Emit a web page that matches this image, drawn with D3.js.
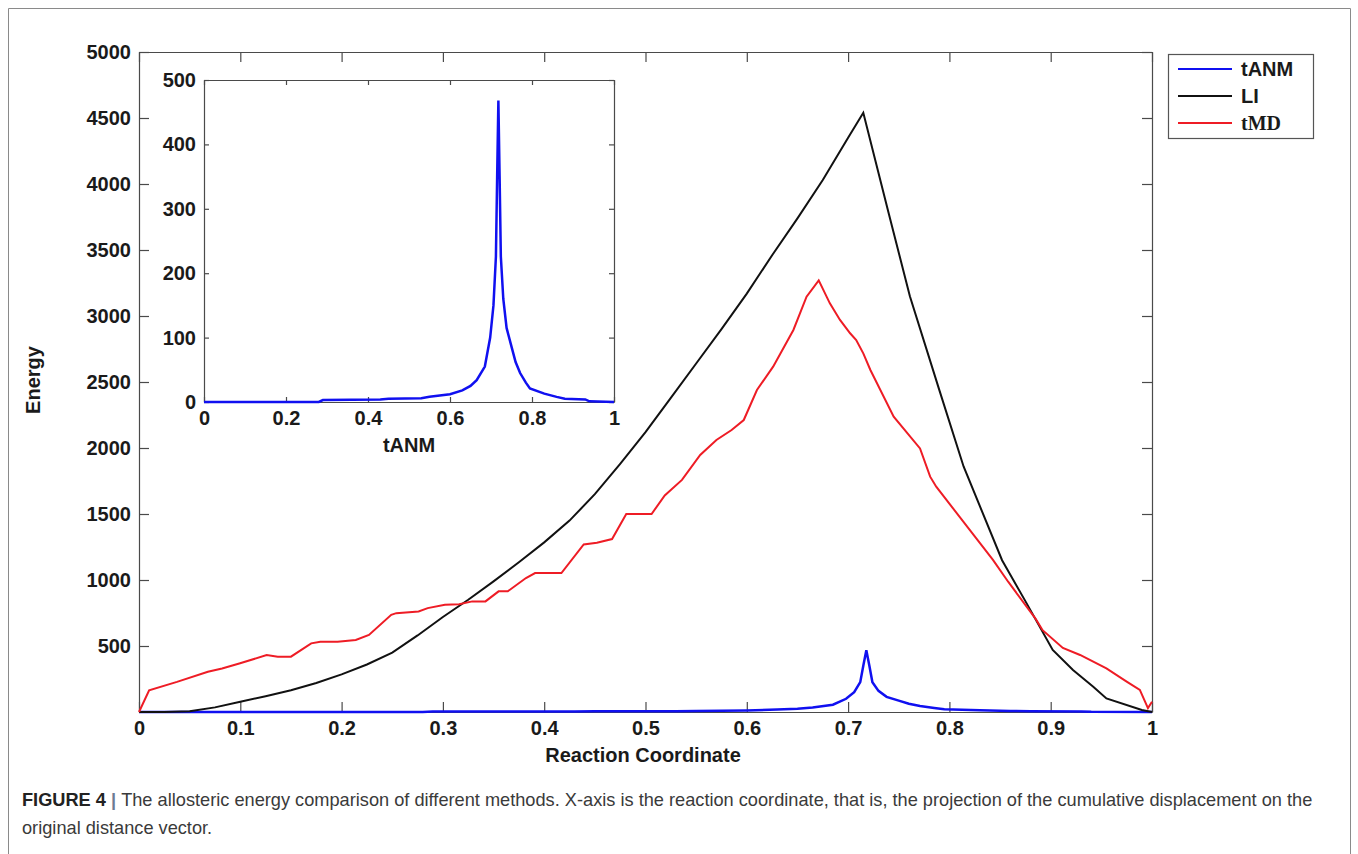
<!DOCTYPE html>
<html>
<head>
<meta charset="utf-8">
<script src="https://cdn.jsdelivr.net/npm/d3@7/dist/d3.min.js"></script>
<style>
  body { margin: 0; background: #fff; }
  svg { display: block; }
  .axis text { font-family: "Liberation Sans", Arial, Helvetica, sans-serif; font-size: 20px; font-weight: bold; fill: #1a1a1a; }
  .axis path, .axis line { stroke: #4a4a4a; stroke-width: 1.2; }
</style>
</head>
<body>
<div id="chart"></div>
<script>
// ---- data ----
// tick labels
var xTicksMain = [0, 0.1, 0.2, 0.3, 0.4, 0.5, 0.6, 0.7, 0.8, 0.9, 1];
var yTicksMain = [500, 1000, 1500, 2000, 2500, 3000, 3500, 4000, 4500, 5000];
var xTicksInset = [0, 0.2, 0.4, 0.6, 0.8, 1];
var yTicksInset = [0, 100, 200, 300, 400, 500];

// legend names
var seriesNames = ["tANM", "LI", "tMD"];

// LI (black)
var liX = [0, 0.025, 0.05, 0.075, 0.1, 0.125, 0.15, 0.175, 0.2, 0.225, 0.25, 0.275, 0.3, 0.325, 0.35, 0.375, 0.4, 0.425, 0.45, 0.475, 0.5, 0.525, 0.55, 0.575, 0.6, 0.625, 0.65, 0.675, 0.7, 0.715, 0.74, 0.761, 0.79, 0.814, 0.852, 0.875, 0.902, 0.922, 0.942, 0.955, 0.99, 1];
var liY = [0, 0, 5, 35, 78, 120, 165, 220, 285, 360, 450, 580, 720, 850, 990, 1135, 1285, 1450, 1650, 1880, 2120, 2380, 2640, 2900, 3170, 3460, 3740, 4030, 4350, 4540, 3780, 3150, 2440, 1860, 1150, 840, 470, 318, 192, 103, 15, 0];

// tMD (red)
var tmdX = [0, 0.01, 0.0375, 0.068, 0.082, 0.099, 0.126, 0.137, 0.15, 0.17, 0.179, 0.196, 0.214, 0.227, 0.249, 0.254, 0.276, 0.285, 0.302, 0.316, 0.329, 0.342, 0.355, 0.364, 0.382, 0.391, 0.417, 0.439, 0.452, 0.467, 0.481, 0.506, 0.519, 0.536, 0.554, 0.57, 0.585, 0.597, 0.61, 0.626, 0.646, 0.659, 0.671, 0.682, 0.692, 0.702, 0.708, 0.715, 0.722, 0.745, 0.771, 0.781, 0.787, 0.843, 0.858, 0.885, 0.892, 0.912, 0.929, 0.955, 0.975, 0.988, 0.996, 1];
var tmdY = [0, 165, 228, 305, 330, 368, 431, 419, 419, 520, 533, 533, 546, 584, 736, 749, 761, 787, 812, 817, 838, 838, 914, 914, 1015, 1053, 1053, 1269, 1282, 1310, 1500, 1500, 1640, 1758, 1947, 2061, 2136, 2212, 2439, 2616, 2894, 3146, 3270, 3096, 2970, 2869, 2818, 2717, 2591, 2237, 1997, 1783, 1707, 1152, 987, 707, 620, 485, 432, 331, 230, 167, 30, 78];

// tANM (blue), also shown in the inset
var tanmX = [0, 0.28, 0.29, 0.43, 0.45, 0.53, 0.55, 0.6, 0.63, 0.65, 0.665, 0.685, 0.698, 0.706, 0.712, 0.715, 0.718, 0.721, 0.724, 0.73, 0.738, 0.75, 0.76, 0.771, 0.785, 0.795, 0.83, 0.86, 0.88, 0.93, 0.94, 1];
var tanmY = [0, 0, 3, 4, 5, 6, 8, 12, 18, 25, 34, 55, 100, 150, 226, 350, 468, 350, 226, 160, 115, 86, 62, 45, 30, 21, 13, 8, 5, 4, 1, 0];

var colors = { tANM: "#1010f0", LI: "#111111", tMD: "#ee1c25" };

function zip(xs, ys) {
    return xs.map(function(d, i) { return { x: d, y: ys[i] }; });
}

var W = 1358, H = 854;
var svg = d3.select("#chart").append("svg")
    .attr("width", W).attr("height", H);

// outer figure frame (open at the bottom, cropped)
svg.append("path")
    .attr("d", "M8.5," + H + "V8.5H1350.5V" + H)
    .attr("fill", "none")
    .attr("stroke", "#8a8a8a");

// ---- main plot ----
var x = d3.scaleLinear().domain([0, 1]).range([139, 1152]);
var y = d3.scaleLinear().domain([0, 5000]).range([712, 52]);

var fmt = function(d) { return d + ""; };

svg.append("g").attr("class", "axis")
    .attr("transform", "translate(0," + y(0) + ")")
    .call(d3.axisBottom(x).tickValues(xTicksMain).tickFormat(fmt).tickSize(-10).tickSizeOuter(0).tickPadding(9));
svg.append("g").attr("class", "axis")
    .attr("transform", "translate(0," + y(5000) + ")")
    .call(d3.axisTop(x).tickValues(xTicksMain).tickFormat("").tickSize(-10).tickSizeOuter(0));
svg.append("g").attr("class", "axis")
    .attr("transform", "translate(" + x(0) + ",0)")
    .call(d3.axisLeft(y).tickValues(yTicksMain).tickFormat(fmt).tickSize(-10).tickSizeOuter(0).tickPadding(8));
svg.append("g").attr("class", "axis")
    .attr("transform", "translate(" + x(1) + ",0)")
    .call(d3.axisRight(y).tickValues(yTicksMain).tickFormat("").tickSize(-10).tickSizeOuter(0));

var line = d3.line()
    .x(function(d) { return x(d.x); })
    .y(function(d) { return y(d.y); });

svg.append("path").datum(zip(tanmX, tanmY))
    .attr("d", line).attr("fill", "none")
    .attr("stroke", colors.tANM).attr("stroke-width", 2.5);
svg.append("path").datum(zip(liX, liY))
    .attr("d", line).attr("fill", "none")
    .attr("stroke", colors.LI).attr("stroke-width", 2);
svg.append("path").datum(zip(tmdX, tmdY))
    .attr("d", line).attr("fill", "none")
    .attr("stroke", colors.tMD).attr("stroke-width", 2);

// axis titles
svg.append("text")
    .attr("x", 643).attr("y", 762)
    .attr("text-anchor", "middle")
    .style("font-family", "'Liberation Sans', Arial, sans-serif")
    .style("font-size", "20px").style("font-weight", "bold").style("fill", "#1a1a1a")
    .text("Reaction Coordinate");
svg.append("text")
    .attr("transform", "translate(40,380) rotate(-90)")
    .attr("text-anchor", "middle")
    .style("font-family", "'Liberation Sans', Arial, sans-serif")
    .style("font-size", "20px").style("font-weight", "bold").style("fill", "#1a1a1a")
    .text("Energy");

// ---- inset ----
var xi = d3.scaleLinear().domain([0, 1]).range([204, 614]);
var yi = d3.scaleLinear().domain([0, 500]).range([402, 80]);

svg.append("rect")
    .attr("x", xi(0)).attr("y", yi(500))
    .attr("width", xi(1) - xi(0)).attr("height", yi(0) - yi(500))
    .attr("fill", "#fff");

svg.append("g").attr("class", "axis")
    .attr("transform", "translate(0," + yi(0) + ")")
    .call(d3.axisBottom(xi).tickValues(xTicksInset).tickFormat(fmt).tickSize(-5).tickSizeOuter(0).tickPadding(9));
svg.append("g").attr("class", "axis")
    .attr("transform", "translate(0," + yi(500) + ")")
    .call(d3.axisTop(xi).tickValues(xTicksInset).tickFormat("").tickSize(-5).tickSizeOuter(0));
svg.append("g").attr("class", "axis")
    .attr("transform", "translate(" + xi(0) + ",0)")
    .call(d3.axisLeft(yi).tickValues(yTicksInset).tickFormat(fmt).tickSize(-5).tickSizeOuter(0).tickPadding(8));
svg.append("g").attr("class", "axis")
    .attr("transform", "translate(" + xi(1) + ",0)")
    .call(d3.axisRight(yi).tickValues(yTicksInset).tickFormat("").tickSize(-5).tickSizeOuter(0));

var lineInset = d3.line()
    .x(function(d) { return xi(d.x); })
    .y(function(d) { return yi(d.y); });

svg.append("path").datum(zip(tanmX, tanmY))
    .attr("d", lineInset).attr("fill", "none")
    .attr("stroke", colors.tANM).attr("stroke-width", 2.5);

svg.append("text")
    .attr("x", 409).attr("y", 452)
    .attr("text-anchor", "middle")
    .style("font-family", "'Liberation Sans', Arial, sans-serif")
    .style("font-size", "20px").style("font-weight", "bold").style("fill", "#1a1a1a")
    .text("tANM");

// ---- legend ----
var lg = svg.append("g").attr("transform", "translate(1168,54)");
lg.append("rect")
    .attr("x", 0.5).attr("y", 0.5).attr("width", 145).attr("height", 84)
    .attr("fill", "#fff").attr("stroke", "#555").attr("stroke-width", 1.2);
seriesNames.forEach(function(name, i) {
    var yy = 15 + i * 27;
    lg.append("line")
        .attr("x1", 10).attr("x2", 64).attr("y1", yy).attr("y2", yy)
        .attr("stroke", colors[name]).attr("stroke-width", 2);
    lg.append("text")
        .attr("x", 73).attr("y", yy).attr("dy", "0.36em")
        .style("font-family", name == "tMD" ? "'Liberation Serif', 'Times New Roman', serif" : "'Liberation Sans', Arial, sans-serif")
        .style("font-size", "20px").style("font-weight", "bold").style("fill", "#1a1a1a")
        .text(name);
});

// ---- caption ----
// condensed look: draw in Liberation Sans and squeeze horizontally to the figure's line width
var capFont = "'Liberation Sans', Arial, Helvetica, sans-serif";
var capG = svg.append("g");
var cap1 = capG.append("text")
    .attr("x", 0).attr("y", 806)
    .style("font-family", capFont).style("font-size", "18px").style("fill", "#3a3a3a");
cap1.append("tspan").style("font-weight", "bold").style("fill", "#222").text("FIGURE 4 ");
cap1.append("tspan").style("font-weight", "bold").style("fill", "#6d7a93").text("| ");
cap1.append("tspan").text("The allosteric energy comparison of different methods. X-axis is the reaction coordinate, that is, the projection of the cumulative displacement on the");
capG.append("text")
    .attr("x", 0).attr("y", 834)
    .style("font-family", capFont).style("font-size", "18px").style("fill", "#3a3a3a")
    .text("original distance vector.");

var len = cap1.node().getComputedTextLength();
capG.attr("transform", "translate(22,0) scale(" + (1291 / len) + ",1)");
</script>
</body>
</html>
